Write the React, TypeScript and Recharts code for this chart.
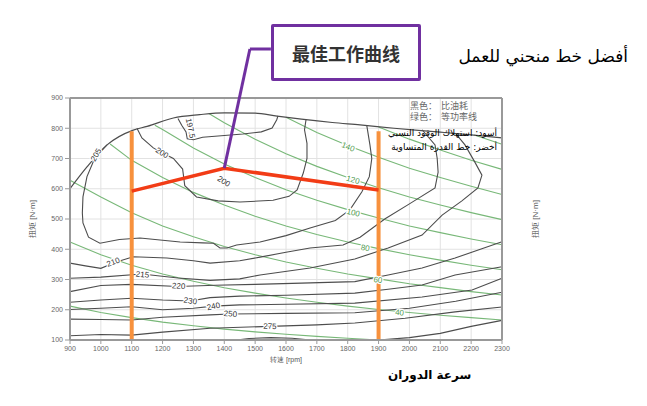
import {
  LineChart,
  Line,
  XAxis,
  YAxis,
  CartesianGrid,
  ReferenceLine,
  ReferenceDot,
} from 'recharts'

type Pt = [number, number]

const rpmTicks = [900, 1000, 1100, 1200, 1300, 1400, 1500, 1600, 1700, 1800, 1900, 2000, 2100, 2200, 2300]
const torqueTicks = [100, 200, 300, 400, 500, 600, 700, 800, 900]

// outer max torque curve
const maxTorque: Pt[] = [
  [900, 600], [955, 672], [1020, 745], [1105, 794], [1150, 806], [1235, 834], [1320, 845],
  [1400, 851], [1500, 850], [1571, 840], [1650, 830], [1750, 819], [1840, 811], [1950, 800],
  [2100, 787], [2200, 778], [2300, 768],
]

// specific fuel consumption contours (black)
const bsfc1975: Pt[] = [
  [1250, 832], [1262, 810], [1276, 788], [1280, 765], [1300, 762], [1330, 770], [1400, 776],
  [1460, 781], [1520, 788], [1555, 801], [1570, 828], [1574, 841],
]
const bsfc200: Pt[] = [
  [1117, 800], [1133, 768], [1170, 735], [1200, 718], [1235, 700], [1265, 665], [1272, 610],
  [1310, 573], [1380, 560], [1451, 556], [1558, 562], [1610, 575], [1636, 596], [1656, 652],
  [1668, 700], [1668, 750], [1660, 795], [1665, 829],
]
const bsfc205: Pt[] = [
  [1020, 745], [990, 712], [975, 688], [955, 640], [942, 573], [940, 520], [942, 487], [960, 440],
  [997, 420], [1060, 432], [1127, 437], [1200, 430], [1257, 424], [1330, 421], [1365, 420],
  [1386, 404], [1409, 404], [1440, 414], [1516, 424], [1600, 445], [1678, 470], [1760, 495],
  [1807, 530], [1846, 590], [1870, 640], [1878, 700], [1872, 745], [1862, 808],
]
const bsfc210: Pt[] = [
  [900, 354], [950, 345], [1000, 337], [1050, 358], [1105, 375], [1214, 371], [1300, 362],
  [1354, 354], [1450, 362], [1516, 374], [1600, 390], [1678, 404], [1785, 414], [1840, 440],
  [1920, 500], [2000, 550], [2083, 603], [2093, 655], [2090, 700], [2083, 745], [2041, 795],
]
const bsfc215: Pt[] = [
  [900, 304], [1000, 308], [1133, 318], [1250, 305], [1354, 297], [1450, 302], [1516, 315],
  [1678, 338], [1823, 368], [1931, 404], [2041, 447], [2106, 513], [2170, 560], [2222, 603],
  [2235, 645], [2212, 688], [2180, 745], [2150, 782],
]
const bsfc220: Pt[] = [
  [900, 260], [1000, 280], [1100, 284], [1250, 277], [1370, 281], [1500, 284], [1650, 288],
  [1823, 293], [1931, 315], [2041, 338], [2148, 371], [2230, 400], [2300, 425],
]
const bsfc230: Pt[] = [
  [900, 225], [1000, 232], [1100, 238], [1200, 232], [1289, 229], [1354, 240], [1450, 245],
  [1600, 248], [1823, 255], [1931, 268], [2041, 282], [2148, 315], [2300, 342],
]
const bsfc240: Pt[] = [
  [900, 201], [1000, 205], [1100, 210], [1200, 200], [1300, 205], [1365, 212], [1450, 216],
  [1600, 218], [1823, 222], [2041, 242], [2203, 265], [2300, 304],
]
const bsfc250: Pt[] = [
  [900, 169], [1000, 168], [1100, 166], [1200, 175], [1354, 183], [1418, 186], [1600, 188],
  [1823, 190], [2000, 205], [2150, 228], [2300, 258],
]
const bsfc275: Pt[] = [
  [900, 114], [1000, 118], [1100, 116], [1200, 126], [1354, 139], [1548, 145], [1700, 150],
  [1823, 156], [1986, 172], [2148, 193], [2300, 209],
]
const bsfc290: Pt[] = [
  [1900, 100], [2000, 108], [2100, 122], [2200, 145], [2300, 165],
]
const bsfcIsland: Pt[] = [
  [1440, 100], [1480, 105], [1550, 108], [1620, 106], [1680, 100],
]

// equal power lines (green)
const power20: Pt[] = [
  [900, 212], [1000, 191], [1100, 174], [1200, 159], [1300, 147], [1400, 136], [1500, 127],
  [1600, 119], [1700, 112], [1800, 106], [1900, 100],
]
const power40: Pt[] = [
  [900, 424], [1000, 382], [1100, 347], [1200, 318], [1300, 294], [1400, 273], [1500, 255],
  [1600, 239], [1700, 225], [1800, 212], [1900, 201], [2000, 191], [2100, 182], [2200, 174], [2300, 166],
]
const power60: Pt[] = [
  [900, 628], [1000, 573], [1100, 521], [1200, 477], [1300, 441], [1400, 409], [1500, 382],
  [1600, 358], [1700, 337], [1800, 318], [1900, 302], [2000, 286], [2100, 273], [2200, 260], [2300, 249],
]
const power80: Pt[] = [
  [1030, 748], [1100, 694], [1200, 637], [1300, 588], [1400, 546], [1500, 509], [1600, 477],
  [1700, 449], [1800, 424], [1900, 402], [2000, 382], [2100, 364], [2200, 347], [2300, 332],
]
const power100: Pt[] = [
  [1175, 810], [1200, 796], [1300, 735], [1400, 682], [1500, 637], [1600, 597], [1700, 562],
  [1800, 531], [1900, 503], [2000, 477], [2100, 455], [2200, 434], [2300, 415],
]
const power120: Pt[] = [
  [1350, 849], [1400, 818], [1500, 764], [1600, 716], [1700, 674], [1800, 637], [1900, 603],
  [2000, 573], [2100, 546], [2200, 521], [2300, 498],
]
const power140: Pt[] = [
  [1600, 836], [1700, 786], [1800, 743], [1900, 704], [2000, 668], [2100, 637], [2200, 608], [2300, 581],
]
const power160: Pt[] = [
  [1900, 804], [2000, 764], [2100, 728], [2200, 694], [2300, 664],
]
const power180: Pt[] = [
  [2210, 778], [2300, 747],
]

// best working curve and speed limits
const bestCurve: Pt[] = [[1100, 592], [1400, 668], [1900, 596]]
const speedLow: Pt[] = [[1100, 100], [1100, 790]]
const speedHigh: Pt[] = [[1900, 100], [1900, 790]]

const bsfcLabels = [
  { x: 1290, y: 800, text: '197.5', angle: 78 },
  { x: 985, y: 712, text: '205', angle: -60 },
  { x: 1198, y: 718, text: '200', angle: 32 },
  { x: 1398, y: 624, text: '200', angle: 32 },
  { x: 1040, y: 357, text: '210', angle: -20 },
  { x: 1135, y: 316, text: '215', angle: 6 },
  { x: 1252, y: 278, text: '220', angle: 4 },
  { x: 1290, y: 229, text: '230', angle: 8 },
  { x: 1365, y: 211, text: '240', angle: -12 },
  { x: 1420, y: 186, text: '250', angle: 4 },
  { x: 1548, y: 145, text: '275', angle: 2 },
]

const powerLabels = [
  { x: 1801, y: 738, text: '140', angle: 22 },
  { x: 1817, y: 629, text: '120', angle: 16 },
  { x: 1818, y: 520, text: '100', angle: 13 },
  { x: 1857, y: 404, text: '80', angle: 10 },
  { x: 1898, y: 298, text: '60', angle: 8 },
  { x: 1968, y: 190, text: '40', angle: 5 },
]

const bsfcCurves = [bsfc1975, bsfc200, bsfc205, bsfc210, bsfc215, bsfc220, bsfc230, bsfc240, bsfc250, bsfc275, bsfc290, bsfcIsland]
const powerCurves = [power20, power40, power60, power80, power100, power120, power140, power160, power180]

const toRows = (pts: Pt[]) => pts.map(([x, y]) => ({ x, y }))

const BLACK = '#4d4d4d'
const GREEN = '#78b878'
const ORANGE = '#f7913d'
const RED = '#f23c16'
const PURPLE = '#7030a0'

function labelShape(text: string, angle: number, color: string) {
  return (props: { cx?: number; cy?: number }) => {
    const cx = props.cx ?? 0
    const cy = props.cy ?? 0
    return (
      <text
        x={cx}
        y={cy}
        transform={`rotate(${angle} ${cx} ${cy})`}
        textAnchor="middle"
        dominantBaseline="central"
        fontSize={8}
        fill={color}
        stroke="#fff"
        strokeWidth={2.5}
        paintOrder="stroke"
      >
        {text}
      </text>
    )
  }
}

const tickStyle = { fill: '#666', fontSize: 7 }

export default function App() {
  return (
    <div
      style={{
        position: 'absolute',
        left: 0,
        top: 0,
        width: 647,
        height: 406,
        background: '#fff',
        fontFamily: '"Liberation Sans", Arial, sans-serif',
      }}
    >
      <LineChart width={647} height={406} margin={{ top: 98, right: 105, bottom: 46, left: 30 }}>
        <CartesianGrid yAxisId="left" stroke="#e2e2e2" strokeWidth={1} />
        <XAxis
          type="number"
          dataKey="x"
          domain={[900, 2300]}
          ticks={rpmTicks}
          interval={0}
          height={20}
          tick={tickStyle}
          tickSize={4}
          stroke="#999"
          axisLine={{ stroke: '#999', strokeWidth: 2 }}
          label={{ value: '转速 [rpm]', position: 'insideBottom', offset: -2, fontSize: 7, fill: '#555' }}
        />
        <YAxis
          yAxisId="left"
          type="number"
          dataKey="y"
          domain={[100, 900]}
          ticks={torqueTicks}
          interval={0}
          width={40}
          tick={tickStyle}
          tickSize={5}
          stroke="#999"
          axisLine={{ stroke: '#999', strokeWidth: 2 }}
          label={{ value: '扭矩 [N·m]', angle: -90, position: 'center', dx: -18, fontSize: 8, fill: '#555' }}
        />
        <YAxis
          yAxisId="right"
          orientation="right"
          type="number"
          domain={[100, 900]}
          ticks={torqueTicks}
          interval={0}
          width={40}
          tick={tickStyle}
          tickSize={5}
          stroke="#999"
          axisLine={{ stroke: '#999', strokeWidth: 2 }}
          label={{ value: '扭矩 [N·m]', angle: -90, position: 'center', dx: 13, fontSize: 8, fill: '#555' }}
        />
        <ReferenceLine yAxisId="left" y={900} stroke="#999" strokeWidth={2} />

        {powerCurves.map((pts, i) => (
          <Line
            key={`p${i}`}
            yAxisId="left"
            data={toRows(pts)}
            dataKey="y"
            type="linear"
            stroke={GREEN}
            strokeWidth={1.1}
            dot={false}
            isAnimationActive={false}
          />
        ))}
        {bsfcCurves.map((pts, i) => (
          <Line
            key={`b${i}`}
            yAxisId="left"
            data={toRows(pts)}
            dataKey="y"
            type="linear"
            stroke={BLACK}
            strokeWidth={1.1}
            dot={false}
            isAnimationActive={false}
          />
        ))}
        <Line
          yAxisId="left"
          data={toRows(maxTorque)}
          dataKey="y"
          type="monotone"
          stroke={BLACK}
          strokeWidth={1.2}
          dot={false}
          isAnimationActive={false}
        />

        {bsfcLabels.map((l, i) => (
          <ReferenceDot key={`bl${i}`} yAxisId="left" x={l.x} y={l.y} r={0} shape={labelShape(l.text, l.angle, '#333')} />
        ))}
        {powerLabels.map((l, i) => (
          <ReferenceDot key={`pl${i}`} yAxisId="left" x={l.x} y={l.y} r={0} shape={labelShape(l.text, l.angle, '#4f9a4f')} />
        ))}

        <Line yAxisId="left" data={toRows(speedLow)} dataKey="y" stroke={ORANGE} strokeWidth={4} dot={false} isAnimationActive={false} />
        <Line yAxisId="left" data={toRows(speedHigh)} dataKey="y" stroke={ORANGE} strokeWidth={4} dot={false} isAnimationActive={false} />
        <Line yAxisId="left" data={toRows(bestCurve)} dataKey="y" type="linear" stroke={RED} strokeWidth={3.5} dot={false} isAnimationActive={false} />

        <ReferenceLine
          yAxisId="left"
          ifOverflow="visible"
          segment={[{ x: 1400, y: 668 }, { x: 1483, y: 1062 }]}
          stroke={PURPLE}
          strokeWidth={3}
        />
        <ReferenceLine
          yAxisId="left"
          ifOverflow="visible"
          segment={[{ x: 1483, y: 1062 }, { x: 1551, y: 1062 }]}
          stroke={PURPLE}
          strokeWidth={3}
        />
      </LineChart>

      <div
        style={{
          position: 'absolute',
          left: 271,
          top: 24,
          width: 150,
          height: 57,
          boxSizing: 'border-box',
          border: `3px solid ${PURPLE}`,
          borderRadius: 2,
          background: '#fff',
          display: 'flex',
          alignItems: 'center',
          justifyContent: 'center',
          fontFamily: '"Noto Sans CJK SC", sans-serif',
          fontWeight: 700,
          fontSize: 18,
          color: '#333',
        }}
      >
        最佳工作曲线
      </div>

      <div
        dir="rtl"
        style={{
          position: 'absolute',
          right: 19,
          top: 46,
          fontFamily: '"DejaVu Sans", sans-serif',
          fontSize: 17,
          color: '#000',
          whiteSpace: 'nowrap',
        }}
      >
        أفضل خط منحني للعمل
      </div>

      <div
        style={{
          position: 'absolute',
          left: 410,
          top: 100,
          fontFamily: '"Noto Sans CJK SC", sans-serif',
          fontSize: 9,
          lineHeight: '11px',
          color: '#666',
          whiteSpace: 'pre',
        }}
      >
        {'黑色：  比油耗\n绿色：  等功率线'}
      </div>

      <div
        dir="rtl"
        style={{
          position: 'absolute',
          right: 150,
          top: 126,
          fontFamily: '"DejaVu Sans", sans-serif',
          fontSize: 9,
          lineHeight: '14px',
          color: '#000',
          whiteSpace: 'nowrap',
          textAlign: 'right',
        }}
      >
        <div>أسود: استهلاك الوقود النسبي</div>
        <div>أخضر: خط القدرة المتساوية</div>
      </div>

      <div
        dir="rtl"
        style={{
          position: 'absolute',
          left: 388,
          top: 368,
          fontFamily: '"DejaVu Sans", sans-serif',
          fontWeight: 700,
          fontSize: 12,
          color: '#000',
          whiteSpace: 'nowrap',
        }}
      >
        سرعة الدوران
      </div>
    </div>
  )
}
